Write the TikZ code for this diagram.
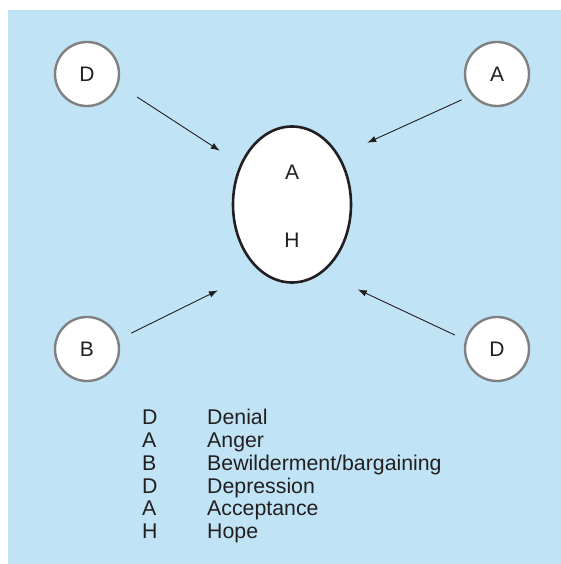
\documentclass[tikz,border=0pt]{standalone}
\usepackage{fontspec}
\setmainfont{Liberation Sans}
\usepackage{tikz}
\usetikzlibrary{
	shapes.geometric,
	arrows.meta
}

\definecolor{paleblue}{RGB}{192,228,246}
\definecolor{ringgray}{RGB}{128,128,128}
\definecolor{inkdark}{RGB}{35,31,32}

\tikzset{
	stage/.style={circle,draw=ringgray,line width=2.4pt,fill=white,
		minimum size=64pt,inner sep=0pt,text=inkdark,font=\fontsize{21}{24}\selectfont},
	hub/.style={ellipse,draw=inkdark,line width=2.6pt,fill=white,
		minimum width=118pt,minimum height=156pt,inner sep=0pt},
	hubtext/.style={inner sep=0pt,text=inkdark,font=\fontsize{21}{24}\selectfont},
	keytext/.style={anchor=base west,inner sep=0pt,text=inkdark,font=\fontsize{21.3}{24}\selectfont},
	arr/.style={draw=inkdark,line width=0.9pt,-{Latex[length=9pt,width=6.5pt]}}
}

\begin{document}
\begin{tikzpicture}[x=1pt,y=1pt]
		\fill[paleblue] (8,0) rectangle (561,554);
		\useasboundingbox (0,0) rectangle (561,564);

		\draw
			node[stage] (d1)  at (87,490)    {D}
			node[stage] (a1)  at (497,490)   {A}
			node[stage] (b1)  at (87,215)    {B}
			node[stage] (d2)  at (497,215)   {D}
			node[hub]   (hub) at (292,359.5) {}
			node[hubtext] (acc)  at (292,392) {A}
			node[hubtext] (hope) at (292,324) {H}

			(d1.-19)  edge[arr,shorten <=22.4pt,shorten >=24.3pt] (hub.142)
			(a1.220.6) edge[arr,shorten <=10.9pt,shorten >=30.6pt] (hub.46)
			(b1.17)   edge[arr,shorten <=13.9pt,shorten >=45.2pt] (hub.243)
			(d2.164)  edge[arr,shorten <=11.4pt,shorten >=39pt]   (hub.-66)
		;

		% legend
		\foreach \ltr/\word [count=\i] in {D/Denial,A/Anger,B/Bewilderment\slash bargaining,D/Depression,A/Acceptance,H/Hope}{
			\node[keytext] (key\i)  at (142,139-22.7*\i+22.7) {\ltr};
			\node[keytext] (word\i) at (207,139-22.7*\i+22.7) {\word};
		}
	\end{tikzpicture}
\end{document}
